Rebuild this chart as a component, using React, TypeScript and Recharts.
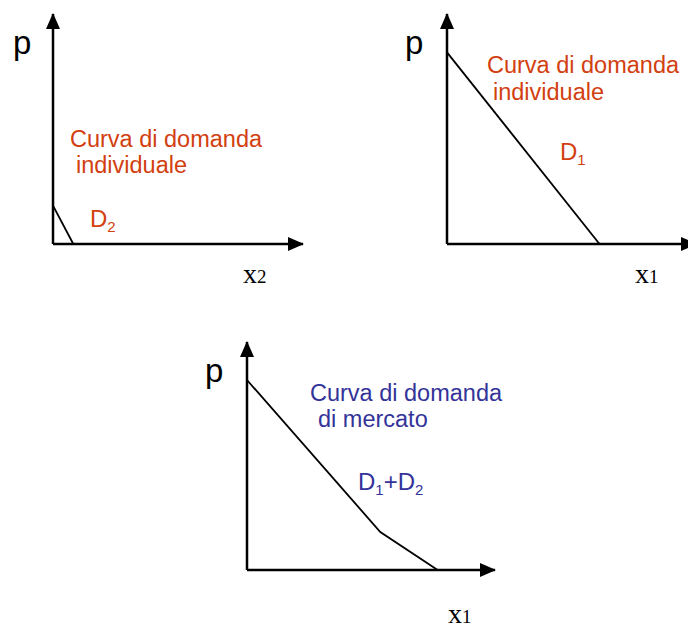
import React from 'react';
import { LineChart, Line, XAxis, YAxis } from 'recharts';

// individual demand, good 2 (left panel)
const d2Qty = [0, 1.3];
const d2Price = [2, 0];

// individual demand, good 1 (right panel)
const d1Qty = [0, 9.8];
const d1Price = [10, 0];

// market demand D1+D2 (bottom panel) – kinked where D2 starts
const marketQty = [0, 8.6, 12.3];
const marketPrice = [10, 2, 0];

const qtyDomain = [0, 16];
const priceDomain = [0, 12];

const RED = '#D2400F';
const BLUE = '#333399';
const SANS = '"Liberation Sans", Arial, sans-serif';
const SERIF = '"Liberation Serif", "Times New Roman", serif';

const toRows = (qty: number[], price: number[]) => qty.map((x, i) => ({ x, p: price[i] }));

interface PanelProps {
  qty: number[];
  price: number[];
  originX: number;
  originY: number;
  tipX: number;
  tipY: number;
}

function DemandPanel({ qty, price, originX, originY, tipX, tipY }: PanelProps) {
  const W = 710;
  const H = 628;
  // axes need a non-zero size to be drawn, so each gets 1px of the margin
  return (
    <div style={{ position: 'absolute', left: 0, top: 0 }}>
      <LineChart
        width={W}
        height={H}
        data={toRows(qty, price)}
        margin={{ top: tipY, left: originX - 1, right: W - tipX, bottom: H - originY - 1 }}
      >
        <XAxis
          dataKey="x"
          type="number"
          domain={qtyDomain}
          height={1}
          tick={false}
          tickLine={false}
          axisLine={{ stroke: '#000', strokeWidth: 2.5, markerEnd: 'url(#arrowHead)' }}
        />
        <YAxis
          dataKey="p"
          type="number"
          domain={priceDomain}
          width={1}
          tick={false}
          tickLine={false}
          axisLine={{ stroke: '#000', strokeWidth: 2.5, markerStart: 'url(#arrowHead)' }}
        />
        <Line
          type="linear"
          dataKey="p"
          stroke="#000"
          strokeWidth={1.8}
          dot={false}
          activeDot={false}
          isAnimationActive={false}
        />
      </LineChart>
    </div>
  );
}

export default function App() {
  return (
    <div style={{ position: 'absolute', left: 0, top: 0, width: 688, height: 628, overflow: 'hidden', background: '#fff' }}>
      <DemandPanel qty={d2Qty} price={d2Price} originX={53} originY={244} tipX={303} tipY={14} />
      <DemandPanel qty={d1Qty} price={d1Price} originX={447} originY={244} tipX={696} tipY={14} />
      <DemandPanel qty={marketQty} price={marketPrice} originX={247} originY={570} tipX={495} tipY={342} />

      <svg width={688} height={628} style={{ position: 'absolute', left: 0, top: 0, pointerEvents: 'none' }}>
        <defs>
          <marker
            id="arrowHead"
            markerUnits="userSpaceOnUse"
            markerWidth={16}
            markerHeight={14}
            viewBox="0 0 16 14"
            refX={15}
            refY={7}
            orient="auto-start-reverse"
          >
            <path d="M0,0 L16,7 L0,14 Z" fill="#000" />
          </marker>
        </defs>

        {/* left panel */}
        <text x={13} y={54} fontFamily={SANS} fontSize={33}>p</text>
        <text x={70} y={147} fontFamily={SANS} fontSize={23.5} fill={RED}>Curva di domanda</text>
        <text x={76} y={173} fontFamily={SANS} fontSize={23.5} fill={RED}>individuale</text>
        <text x={90} y={227} fontFamily={SANS} fontSize={24} fill={RED}>
          D<tspan fontSize={15} dy={5}>2</tspan>
        </text>
        <text x={243} y={283} fontFamily={SERIF} fontSize={28}>
          x<tspan fontSize={19}>2</tspan>
        </text>

        {/* right panel */}
        <text x={405} y={54} fontFamily={SANS} fontSize={33}>p</text>
        <text x={487} y={73} fontFamily={SANS} fontSize={23.5} fill={RED}>Curva di domanda</text>
        <text x={493} y={100} fontFamily={SANS} fontSize={23.5} fill={RED}>individuale</text>
        <text x={560} y={160} fontFamily={SANS} fontSize={24} fill={RED}>
          D<tspan fontSize={15} dy={5}>1</tspan>
        </text>
        <text x={635} y={283} fontFamily={SERIF} fontSize={28}>
          x<tspan fontSize={19}>1</tspan>
        </text>

        {/* bottom panel */}
        <text x={205} y={382} fontFamily={SANS} fontSize={33}>p</text>
        <text x={310} y={401} fontFamily={SANS} fontSize={23.5} fill={BLUE}>Curva di domanda</text>
        <text x={318} y={427} fontFamily={SANS} fontSize={23.5} fill={BLUE}>di mercato</text>
        <text x={358} y={490} fontFamily={SANS} fontSize={24} fill={BLUE}>
          D<tspan fontSize={15} dy={5}>1</tspan>
          <tspan fontSize={24} dy={-5}>+D</tspan>
          <tspan fontSize={15} dy={5}>2</tspan>
        </text>
        <text x={448} y={623} fontFamily={SERIF} fontSize={28}>
          x<tspan fontSize={19}>1</tspan>
        </text>
      </svg>
    </div>
  );
}
